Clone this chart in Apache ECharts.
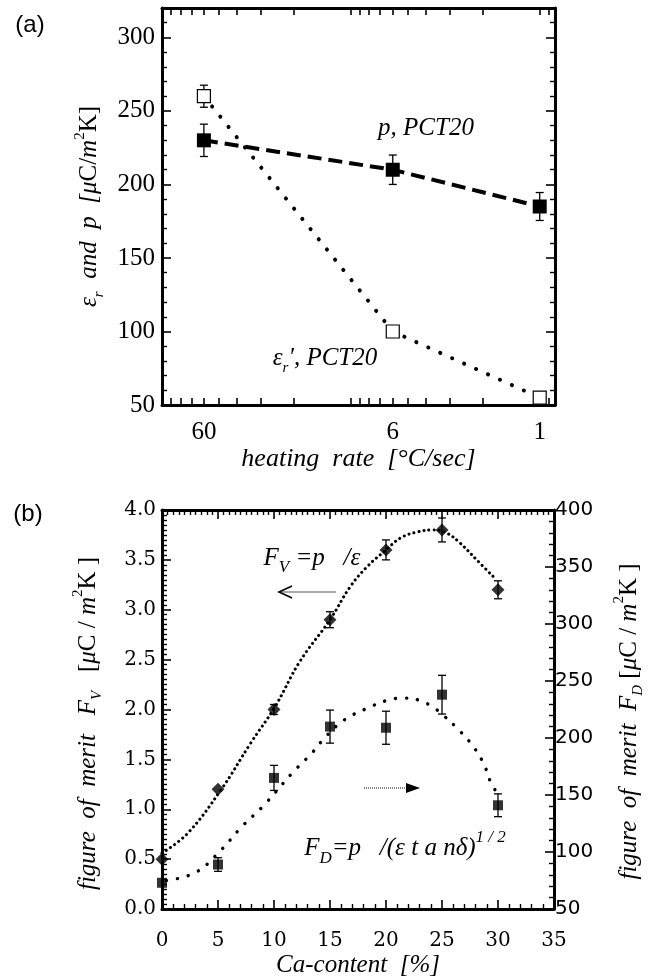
<!DOCTYPE html>
<html>
<head>
<meta charset="utf-8">
<script src="https://cdn.jsdelivr.net/npm/echarts@6/dist/echarts.min.js"></script>
<style>
  html, body { margin: 0; padding: 0; background: #fff; }
  #chart { width: 650px; height: 980px; }
</style>
</head>
<body>
<div id="chart"></div>
<script>
// panel (a): heating rate (log, reversed)
var RATE = [60, 6, 1];
var P_VAL = [230, 210, 185];
var P_ERR = [11, 10, 9.5];
var EPS_VAL = [260, 100, 55];
var EPS_ERR = [7.5, 0, 0];
var RATE_TICKS = [100, 90, 80, 70, 60, 50, 40, 30, 20, 10, 9, 8, 7, 6, 5, 4, 3, 2, 1, 0.9];

// panel (b): Ca-content
var CA = [0, 5, 10, 15, 20, 25, 30];
var FV = [0.5, 1.2, 2.0, 2.9, 3.6, 3.8, 3.2];
var FV_ERR = [0, 0, 0.05, 0.08, 0.1, 0.12, 0.09];
var FD = [73, 89, 165, 210, 209, 238, 141];
var FD_ERR = [0, 6, 11, 14.5, 14.5, 17, 10];

// fitted curves
var FV_FIT_X = [0, 2.3, 5.3, 7.9, 10.1, 12.3, 15, 16.8, 18.3, 20, 21.3, 22.8, 24.2, 25.4, 26.6, 28.1, 29.6];
var FV_FIT_Y = [0.56, 0.76, 1.2, 1.66, 2.03, 2.48, 2.9, 3.23, 3.43, 3.6, 3.72, 3.78, 3.8, 3.77, 3.67, 3.5, 3.33];
var FD_FIT_X = [0.4, 3, 5.3, 7.1, 9, 11.6, 13.4, 14.6, 16.3, 18.3, 20.1, 21.5, 23, 24.2, 25.1, 26.2, 27.6, 28.7, 29.4, 30];
var FD_FIT_Y = [75, 82, 102, 122, 140, 169, 187, 201, 216, 226, 233, 235, 233, 227, 220, 210, 195, 178, 160, 151];

var SERIF = '"Liberation Serif", "Times New Roman", serif';
var SERIF_W = '"DejaVu Serif", serif';
var SANS = '"DejaVu Sans", sans-serif';
var SANS_A = '"Liberation Sans", Arial, sans-serif';
var BLACK = '#000';

function zip(xs, ys) {
  return xs.map(function (x, i) { return [x, ys[i]]; });
}

function errData(xs, ys, es) {
  var out = [];
  xs.forEach(function (x, i) {
    if (es[i] > 0) out.push([x, ys[i] - es[i], ys[i] + es[i]]);
  });
  return out;
}

function errorSeries(xi, yi, data, cap) {
  return {
    type: 'custom',
    xAxisIndex: xi,
    yAxisIndex: yi,
    z: 1,
    silent: true,
    data: data,
    encode: { x: 0, y: [1, 2] },
    renderItem: function (params, api) {
      var lo = api.coord([api.value(0), api.value(1)]);
      var hi = api.coord([api.value(0), api.value(2)]);
      var st = { stroke: BLACK, lineWidth: 1.3 };
      return {
        type: 'group',
        children: [
          { type: 'line', shape: { x1: lo[0], y1: lo[1], x2: hi[0], y2: hi[1] }, style: st },
          { type: 'line', shape: { x1: lo[0] - cap, y1: lo[1], x2: lo[0] + cap, y2: lo[1] }, style: st },
          { type: 'line', shape: { x1: hi[0] - cap, y1: hi[1], x2: hi[0] + cap, y2: hi[1] }, style: st }
        ]
      };
    }
  };
}

var axisLine = { show: true, onZero: false, lineStyle: { color: BLACK, width: 3 } };

function tick(len) {
  return { show: true, inside: true, length: len, lineStyle: { color: BLACK, width: 1.6 } };
}
function minor(n, len) {
  return { show: true, splitNumber: n, length: len, lineStyle: { color: BLACK, width: 1.4 } };
}

var chart = echarts.init(document.getElementById('chart'), null, { renderer: 'canvas' });

function richFor(size) {
  return {
    t: { fontFamily: SERIF, fontStyle: 'italic', fontSize: size, lineHeight: 34, color: BLACK },
    u: { fontFamily: SERIF, fontSize: size, lineHeight: 34, color: BLACK },
    s: { fontFamily: SERIF, fontStyle: 'italic', fontSize: 15, lineHeight: 15, verticalAlign: 'bottom', color: BLACK },
    p: { fontFamily: SERIF, fontSize: 15, lineHeight: 15, verticalAlign: 'top', color: BLACK }
  };
}

var option = {
  backgroundColor: '#fff',
  animation: false,
  grid: [
    { left: 162, right: 95, top: 8, height: 397, outerBoundsMode: 'none', containLabel: false },
    { left: 162, right: 96, top: 510, height: 399, outerBoundsMode: 'none', containLabel: false }
  ],
  xAxis: [
    {
      type: 'log', gridIndex: 0, logBase: 10, min: 0.83, max: 100, inverse: true, position: 'bottom',
      axisLine: axisLine,
      axisTick: Object.assign(tick(7), { customValues: RATE_TICKS }),
      axisLabel: {
        customValues: RATE, margin: 15, color: BLACK, fontFamily: SERIF, fontSize: 25,
        formatter: function (v) { return String(Math.round(v)); }
      },
      splitLine: { show: false },
      name: 'heating  rate  [°C/sec]', nameLocation: 'middle', nameGap: 40,
      nameTextStyle: { fontFamily: SERIF, fontStyle: 'italic', fontSize: 26, color: BLACK }
    },
    {
      type: 'log', gridIndex: 0, logBase: 10, min: 0.83, max: 100, inverse: true, position: 'top',
      axisLine: axisLine,
      axisTick: Object.assign(tick(7), { customValues: RATE_TICKS }),
      axisLabel: { show: false },
      splitLine: { show: false }
    },
    {
      type: 'value', gridIndex: 1, min: 0, max: 35, interval: 5, position: 'bottom',
      axisLine: axisLine, axisTick: tick(9), minorTick: minor(5, 5),
      axisLabel: { margin: 22, color: BLACK, fontFamily: SERIF_W, fontSize: 20 },
      splitLine: { show: false }, minorSplitLine: { show: false },
      name: 'Ca-content  [%]', nameLocation: 'middle', nameGap: 44,
      nameTextStyle: { fontFamily: SERIF, fontStyle: 'italic', fontSize: 25, color: BLACK }
    },
    {
      type: 'value', gridIndex: 1, min: 0, max: 35, interval: 5, position: 'top',
      axisLine: axisLine, axisTick: tick(9), minorTick: minor(10, 5),
      axisLabel: { show: false },
      splitLine: { show: false }, minorSplitLine: { show: false }
    }
  ],
  yAxis: [
    {
      type: 'value', gridIndex: 0, min: 50, max: 320, interval: 50, position: 'left',
      axisLine: axisLine, axisTick: tick(9), minorTick: minor(5, 5),
      axisLabel: { margin: 7, showMaxLabel: false, color: BLACK, fontFamily: SERIF, fontSize: 25 },
      splitLine: { show: false },
      name: '{t|ε}{s|r}{t|  and  p  [μ}{u|C/}{t|m}{p|2}{u|K]}',
      nameLocation: 'middle', nameRotate: 90, nameGap: 40,
      nameTextStyle: { rich: richFor(25) }
    },
    {
      type: 'value', gridIndex: 0, min: 50, max: 320, interval: 50, position: 'right',
      axisLine: axisLine, axisTick: tick(9), minorTick: minor(5, 5),
      axisLabel: { show: false }, splitLine: { show: false }
    },
    {
      type: 'value', gridIndex: 1, min: 0, max: 4, interval: 0.5, position: 'left',
      axisLine: axisLine, axisTick: tick(9), minorTick: minor(10, 5),
      axisLabel: {
        margin: 6, color: BLACK, fontFamily: SERIF_W, fontSize: 20,
        formatter: function (v) { return v.toFixed(1); }
      },
      splitLine: { show: false },
      name: '{t|figure  of  merit   F}{s|V}{u|   [}{t|μ}{u|C / }{t|m}{p|2}{u|K ]}',
      nameLocation: 'middle', nameRotate: 90, nameGap: 57,
      nameTextStyle: { rich: richFor(25), padding: [0, 28, 0, 0] }
    },
    {
      type: 'value', gridIndex: 1, min: 50, max: 400, interval: 50, position: 'right',
      axisLine: axisLine, axisTick: tick(9), minorTick: minor(5, 5),
      axisLabel: { margin: 1, color: BLACK, fontFamily: SANS, fontSize: 20 },
      splitLine: { show: false },
      name: '{t|figure  of  merit  F}{s|D}{u| [}{t|μ}{u|C / }{t|m}{p|2}{u|K ]}',
      nameLocation: 'middle', nameRotate: 90, nameGap: 58,
      nameTextStyle: { rich: richFor(25), padding: [0, 24, 0, 0] }
    }
  ],
  series: [
    errorSeries(0, 0, errData(RATE, P_VAL, P_ERR), 4),
    errorSeries(0, 0, errData(RATE, EPS_VAL, EPS_ERR), 4),
    {
      type: 'line', xAxisIndex: 0, yAxisIndex: 0, z: 3,
      data: zip(RATE, P_VAL),
      symbol: 'rect', symbolSize: 14,
      itemStyle: { color: BLACK },
      lineStyle: { color: BLACK, width: 4, type: [14, 7] }
    },
    {
      type: 'line', xAxisIndex: 0, yAxisIndex: 0, z: 3,
      data: zip(RATE, EPS_VAL),
      symbol: 'rect', symbolSize: 13,
      itemStyle: { color: '#fff', borderColor: BLACK, borderWidth: 1.2 },
      lineStyle: { color: BLACK, width: 4, type: [0.1, 13], cap: 'round' }
    },
    {
      type: 'line', xAxisIndex: 2, yAxisIndex: 2, z: 2,
      data: zip(FV_FIT_X, FV_FIT_Y), smooth: 0.4, showSymbol: false,
      lineStyle: { color: BLACK, width: 3, type: [0.1, 5], cap: 'round' }
    },
    {
      type: 'line', xAxisIndex: 2, yAxisIndex: 3, z: 2,
      data: zip(FD_FIT_X, FD_FIT_Y), smooth: 0.4, showSymbol: false,
      lineStyle: { color: BLACK, width: 3.4, type: [0.1, 11], cap: 'round' }
    },
    errorSeries(2, 2, errData(CA, FV, FV_ERR), 4),
    errorSeries(2, 3, errData(CA, FD, FD_ERR), 4),
    {
      type: 'scatter', xAxisIndex: 2, yAxisIndex: 2, z: 4,
      data: zip(CA, FV), symbol: 'diamond', symbolSize: 13,
      itemStyle: { color: BLACK }
    },
    {
      type: 'scatter', xAxisIndex: 2, yAxisIndex: 3, z: 4,
      data: zip(CA, FD), symbol: 'rect', symbolSize: 10,
      itemStyle: { color: BLACK }
    }
  ],
  graphic: [
    { type: 'text', x: 30, y: 25, style: { text: '(a)', font: '24px ' + SANS_A, fill: BLACK, align: 'center', verticalAlign: 'middle' } },
    { type: 'text', x: 28, y: 514, style: { text: '(b)', font: '24px ' + SANS_A, fill: BLACK, align: 'center', verticalAlign: 'middle' } },
    {
      type: 'text', x: 426, y: 128,
      style: { text: 'p, PCT20', font: 'italic 25px ' + SERIF, fill: BLACK, align: 'center', verticalAlign: 'middle' }
    },
    {
      type: 'text', x: 325, y: 358,
      style: {
        text: '{a|ε}{b|r}{a|′, PCT20}', fill: BLACK, align: 'center', verticalAlign: 'middle',
        rich: {
          a: { fontFamily: SERIF, fontStyle: 'italic', fontSize: 25, lineHeight: 36 },
          b: { fontFamily: SERIF, fontStyle: 'italic', fontSize: 15, lineHeight: 15, verticalAlign: 'bottom' }
        }
      }
    },
    {
      type: 'text', x: 312, y: 558,
      style: {
        text: '{a|F}{b|V}{a| =p   /ε}', fill: BLACK, align: 'center', verticalAlign: 'middle',
        rich: {
          a: { fontFamily: SERIF, fontStyle: 'italic', fontSize: 25, lineHeight: 36 },
          b: { fontFamily: SERIF, fontStyle: 'italic', fontSize: 17, lineHeight: 17, verticalAlign: 'bottom' }
        }
      }
    },
    {
      type: 'text', x: 405, y: 848,
      style: {
        text: '{a|F}{b|D}{a|=p   /(ε t a n}{c|δ}{a|)}{p|1 / 2}', fill: BLACK, align: 'center', verticalAlign: 'middle',
        rich: {
          a: { fontFamily: SERIF, fontStyle: 'italic', fontSize: 25, lineHeight: 38 },
          c: { fontFamily: SERIF, fontStyle: 'italic', fontSize: 25, lineHeight: 38 },
          b: { fontFamily: SERIF, fontStyle: 'italic', fontSize: 17, lineHeight: 17, verticalAlign: 'bottom' },
          p: { fontFamily: SERIF, fontStyle: 'italic', fontSize: 17, lineHeight: 17, verticalAlign: 'top' }
        }
      }
    },
    // arrow pointing to the left axis
    { type: 'line', shape: { x1: 279, y1: 592, x2: 336, y2: 592 }, style: { stroke: '#555', lineWidth: 1.2 } },
    { type: 'polyline', shape: { points: [[292, 586], [279, 592], [292, 598]] }, style: { stroke: BLACK, lineWidth: 1.6, fill: null } },
    // arrow pointing to the right axis
    { type: 'line', shape: { x1: 364, y1: 788, x2: 412, y2: 788 }, style: { stroke: '#666', lineWidth: 1.6, lineDash: [1, 1] } },
    { type: 'polygon', shape: { points: [[406, 783], [420, 788], [406, 793]] }, style: { fill: BLACK } }
  ]
};

chart.setOption(option);
</script>
</body>
</html>
